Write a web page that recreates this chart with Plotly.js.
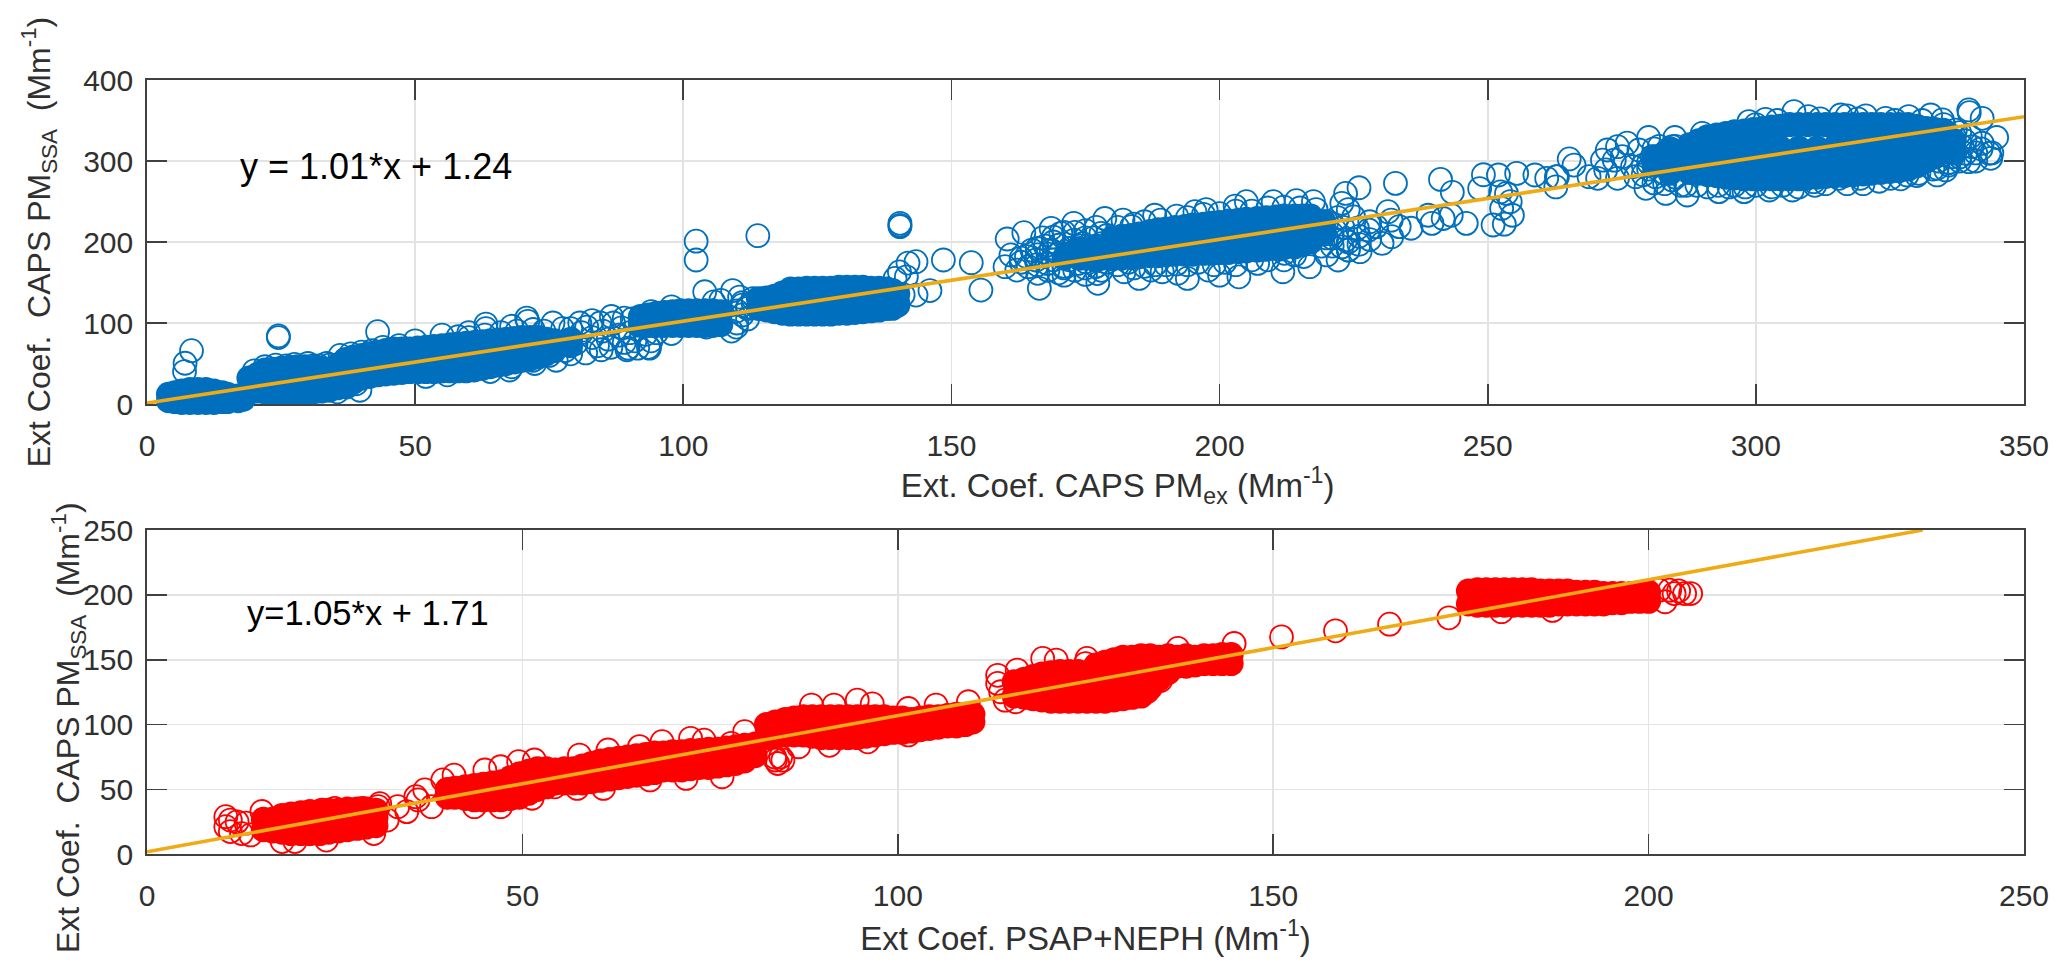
<!DOCTYPE html>
<html><head><meta charset="utf-8">
<script src="https://cdn.plot.ly/plotly-3.0.1.min.js"></script>
<style>html,body{margin:0;padding:0;background:#fff}</style></head>
<body><div id="chart" style="width:2067px;height:974px"></div>
<script>
// Panel 1: saturated (solid-looking) parts of the cloud
const blueCoreX=[4,4,6.5,6.5,9.5,9.5,12.5,12.5,15,15,17,17,
19,19,22,22,22,25,25,25,28,28,28,31,31,31,34,34,34,
37,37,37,40,40,40,43,43,43,46,46,46,49,49,49,
52,52,52,55,55,55,58,58,58,61,61,61,64,64,64,67,67,67,70,70,70,73,73,73,76,76,79,79,
92,92,95,95,98,98,101,101,104,104,107,107,
114,114,117,117,120,120,120,123,123,123,126,126,126,129,129,129,132,132,132,135,135,135,138,138,138,140,140,
171,174,174,177,177,
180,180,180,183.4,183.4,183.4,187,187,187,190,190,190,193.5,193.5,193.5,197,197,197,200,200,200,203.5,203.5,203.5,207,207,207,210.5,210.5,210.5,214,214,214,217,217,217,219.5,219.5,
281,281,284,284,284,
287.6,287.6,287.6,291,291,291,291,294.4,294.4,294.4,294.4,297.8,297.8,297.8,297.8,301.2,301.2,301.2,301.2,304.6,304.6,304.6,304.6,308,308,308,308,311.4,311.4,311.4,311.4,314.8,314.8,314.8,314.8,318.2,318.2,318.2,318.2,321.6,321.6,321.6,321.6,325,325,325,325,328.4,328.4,328.4,328.4,331.8,331.8,331.8,335,335,335,337,337];
const blueCoreY=[4,12,2,16,2,18,2,16,3,12,4,10,
18,32,15,30,42,15,30,44,15,30,46,15,30,45,17,30,43,
22,38,55,32,46,60,36,50,64,38,52,68,40,54,68,
40,55,70,41,56,72,41,58,74,42,60,76,46,62,78,50,64,80,54,68,82,58,72,82,66,78,72,80,
98,108,97,112,97,114,97,115,97,115,98,114,
118,130,114,133,111,127,142,111,127,143,111,127,143,112,128,144,113,128,144,115,130,143,118,130,142,122,136,
180,180,192,178,195,
179,192,205,181,195,208,183,198,213,184,200,216,185,202,219,186,204,222,187,205,224,188,207,227,190,210,229,192,212,231,194,213,232,200,216,232,210,225,
295,305,285,300,315,
286,303,320,283,300,317,330,280,298,316,334,278,297,316,337,278,297,316,340,278,297,316,343,278,297,316,345,280,298,316,345,282,300,318,345,283,301,319,345,285,303,321,345,287,305,323,345,290,308,326,345,300,320,340,311,325,338,310,325];
// Panel 1: the upper and lower edge of the solid parts
const blueRimX=[5.2,5.2,8,8,11,11,14,14,18,20.5,20.5,23.5,23.5,26.5,26.5,29.5,29.5,32.5,32.5,35.5,35.5,35.5,38.5,38.5,41.5,41.5,44.5,44.5,47.5,47.5,50.5,50.5,53.5,53.5,56.5,56.5,59.5,59.5,62.5,62.5,65.5,65.5,68.5,68.5,71.5,71.5,74.5,74.5,
93.5,93.5,96.5,96.5,99.5,99.5,102.5,102.5,105.5,105.5,
115.5,115.5,118.5,118.5,121.5,121.5,124.5,124.5,127.5,127.5,130.5,130.5,133.5,133.5,136.5,136.5,139,139,
181.7,181.7,185,185,188.5,188.5,191.7,191.7,195,195,198.5,198.5,201.7,201.7,205,205,208.7,208.7,212,212,215.5,215.5,
289.3,289.3,292.7,292.7,296,296,299.5,299.5,303,303,306.3,306.3,309.7,309.7,313,313,316.5,316.5,320,320,323.3,323.3,326.7,326.7,330,330,333.4,333.4];
const blueRimY=[3,14,2,18,2,18,3,14,6,16,36,15,43,15,45,15,46,16,44,20,34,48,27,58,34,62,37,66,39,68,40,69,40,71,41,73,41,75,44,77,48,79,52,81,56,82,62,80,
97,110,97,113,97,115,97,115,97,115,
116,131,112,137,111,142,111,143,111,143,112,144,114,144,116,143,120,140,
180,207,182,210,183,215,185,218,185,221,186,223,187,226,189,228,191,230,193,232,197,232,
285,325,282,332,279,336,278,339,278,342,278,345,279,345,281,345,282,345,284,345,286,345,288,345,294,343,305,339];
// Panel 1: individually visible open circles
const blueOpenX=[8.3,7.1,7,24.5,24.5,43,20,22,24,26,27.5,30,32,33.5,35,36,34,31,23,28,39.7,37.2,35.5,39,36,38,40,42,44,47,
60,63,66,69,72,74,50,52,56,64,68,72,75,78,
63.2,63.2,58,70.8,71,68,75.7,77.5,80.7,67.6,72.3,76.3,79,81.8,84.7,60,55,
80,81,82,83,84,84.5,85,86,86.5,87,88,88.5,89,89.5,90,90.5,91,91.5,92,93,93.5,94,95,86.6,89,79,83,89.7,93.7,97.8,104.3,109.9,
110,111,112,113,112,110,113,111,109,
104,109.2,105.7,110.5,97.8,94,102.4,102.4,113.9,140.4,140.4,140.4,143.4,141.9,140.3,141.6,139.5,143.4,146,148.5,153.7,155.5,141,140,139,111,112,107,
160.4,163.5,161.1,160,166.4,177.3,168.6,172.8,170.4,178.6,182,187.9,195.4,197.5,202.9,205,210,214.3,217.5,223.5,226,222.8,232.8,241.2,243.4,249.2,248.5,252,255.4,258.8,262.8,252.4,253.5,254.2,254.6,251,253.1,252.6,246,243.2,241.7,239.6,238.9,235.7,233.5,232.1,230.3,232,229.2,231.4,227.8,226.2,223.5,222.1,220,216.8,211.8,203.6,200,194,189.3,185,182.2,177.2,171,166.1,162.2,168.6,165.8,172.9,173.6,176.5,177.9,167.9,170,164.3,175,179.7,183.6,225,225.7,222.8,215.7,212.1,207.1,197.9,192.2,187.2,169,172,175,178,171,174,177,166,163,221,224,228,
166,166,167.5,168,169,170,171,171.5,172,173,174,174.5,175,176,176.5,177,178,178,179,179,165,167,169,171,173,175,177,175,178,172,168,170,163,164,181,183,184,186,188,190,192,194,196,199,201,203,206,209,212,214,181,184,186,189,192,194,197,200,203,206,209,212,215,218,
220,221,222,223,224,221,224,226,219,220,228,226,224,
265.2,266.1,262.7,263,261,268.9,270.5,271.4,272.3,274.2,276,273.6,272,274.2,277.6,280,284.9,290,298.7,301.8,307.1,309.8,315.8,317,320.5,324.2,328.5,332.6,334.8,339.7,339.8,342.2,344.9,343.5,343.8,342.2,339.7,333.8,333.8,328.2,325.1,319.5,315.5,310.8,306.8,302.5,297.8,293.1,287.2,283.2,279.5,337.2,338.5,336.6,340.3,335.4,330.4,339.1,278.2,275.1,280.7,281.3,277,284.4,284.4,280,282,284,286,283,285,281,279,
280,282,283,284,285,286,285,282,283,285,279,281,287,289,291,293,295,296,
298,300,303,305,308,311,313,317,320,323,327,330,333,300,304,312,319,326,331,335,338,
336,337,338,336,340,341,339,342,337,334,336,335,341,344,338];
const blueOpenY=[65.8,50.3,40,84,82,89.3,41,46,48,47,49,50,47,50,44,39,48,47,42,44,17,21,15,25,60,62,64,66,70,72,
82,85,88,90,92,90,78,34,36,40,46,54,60,66,
98.7,93,83,106,102,96,100,93,100,42,50,54,62,63,67,88,85,
75,88,95,82,72,100,90,80,70,100,85,94,76,67,88,105,78,69,100,86,70,78,88,108,106,93,103,69,69,87,95,95,
100,110,120,125,105,115,130,122,90,
138.6,140,126,132,120,114,201,177.8,207.8,223,219,220.5,175.7,174,163,157,155,134.5,140,177.8,174.5,140.7,135,125,118,125,118,128,
203.7,211.5,184,169.5,142.8,149,216.8,223,210.7,229,227,233,237.4,240,244.4,249.8,249.8,251,249.8,260,267,247.7,272.4,277.3,261.3,283,266,282.7,284.7,282.7,280.6,262,260,249.8,233,221,222,241.5,223,233,229,223,233,217,219,206.6,198.3,227,219,237.4,214.8,188,202.5,177.8,184,169.5,163.3,157,159,155,163.3,155,163.3,161,159,161.3,165.4,190,177.8,202.4,173.6,190,210.7,173.6,186,169.5,175.7,198,219,231,217,194,182,186,173.6,165.4,161.3,165.4,200,185,205,180,168,195,170,192,180,205,190,203,
172,184,195,165,178,196,170,182,192,165,183,198,168,180,205,170,186,198,175,208,190,205,206,212,212,214,218,160,165,178,185,162,175,182,172,175,168,170,172,172,173,172,175,172,175,172,178,178,178,184,218,222,225,227,232,230,234,235,238,238,242,243,242,240,
225,210,230,218,240,195,200,207,195,205,225,197,190,
302.5,295,268,280.7,278.6,280.7,278.6,301,313.6,317.7,322,301,289,278.6,280.7,329,329,334,348.6,351.5,361,354.8,356.8,355.6,355.6,352.7,354.8,356.8,350.7,363,359.7,352.7,329,309.5,303.3,321.9,299.2,282.8,291,282.8,278.6,278.6,278.6,274.5,264.2,264.2,262.2,262.2,258,260,266.3,338,317.7,305.4,317.7,289,284.8,309.5,313.6,305.4,305.4,280.7,293,276.6,317.7,290,300,290,300,310,280,315,295,
298,306,285,298,310,270,318,318,272,292,283,273,270,270,268,270,268,270,
268,270,268,270,268,270,272,272,272,275,278,282,290,345,350,352,352,350,350,345,335,
320,312,300,298,330,310,325,315,330,300,295,308,300,310,305];
const fitLine1X=[0,350];
const fitLine1Y=[1.24,354.74];
// Panel 2
const redCoreX=[15.5,15.5,18,18,18,20.5,20.5,20.5,23,23,23,25.5,25.5,25.5,28,28,28,30.5,30.5,30.5,
40,40,42.4,42.4,44.8,44.8,47.2,47.2,47.2,49.6,49.6,49.6,52,52,52,54.4,54.4,56.8,56.8,59.2,59.2,59.2,61.6,61.6,61.6,64,64,64,66.4,66.4,66.4,68.8,68.8,68.8,71.2,71.2,71.2,73.6,73.6,73.6,76,76,76,78.4,78.4,78.4,81,81,
82.5,82.5,85,85,87.4,87.4,89.8,89.8,92.2,92.2,94.6,94.6,97,97,99.4,99.4,101.8,101.8,104.2,104.2,106.6,106.6,109,109,110,110,
115.5,115.5,118,118,118,120.4,120.4,120.4,122.8,122.8,122.8,125.2,125.2,125.2,127.6,127.6,127.6,127.6,130,130,130,130,132.4,132.4,132.4,132.4,134.8,134.8,134.8,137.2,137.2,139.6,139.6,142,142,144.4,144.4,
176,176,178.4,178.4,180.8,180.8,183.2,183.2,185.6,185.6,188,188,190.4,190.4,192.8,192.8,195.2,195.2,197.6,197.6,200,200];
const redCoreY=[19,27,17,26,30,16,26,32,16,26,33,18,27,34,20,28,35,22,28,34,
44,50,43,52,42,54,42,48,56,44,54,62,50,60,66,55,65,55,66,56,66,70,58,68,73,60,70,75,62,71,77,65,72,78,65,73,79,67,74,80,68,75,81,70,77,83,76,85,
90,100,92,104,92,106,90,106,90,106,90,106,92,106,94,105,95,104,97,106,99,107,100,108,102,108,
122,133,120,128,137,118,128,140,118,128,141,118,128,140,118,128,138,148,120,130,140,152,122,132,142,153,135,144,152,145,152,146,152,147,153,147,154,
193,203,192,204,192,204,192,204,192,203,193,203,193,202,193,202,194,201,195,201,195,202];
const redRimX=[16.7,16.7,19.2,19.2,21.7,21.7,24.2,24.2,26.7,26.7,29.2,29.2,
41,41,43.6,43.6,46,46,48.4,48.4,50.8,50.8,53.2,53.2,55.6,55.6,58,58,60.4,60.4,62.8,62.8,65.2,65.2,67.6,67.6,70,70,72.4,72.4,74.8,74.8,77.2,77.2,79.6,79.6,
83.7,83.7,86.2,86.2,88.6,88.6,91,91,93.4,93.4,95.8,95.8,98.2,98.2,100.6,100.6,103,103,105.4,105.4,107.8,107.8,
116.8,116.8,119.2,119.2,121.6,121.6,124,124,126.4,126.4,128.8,128.8,131.2,131.2,133.6,133.6,136,136,138.4,138.4,140.8,140.8,143.2,143.2,
177.2,177.2,179.6,179.6,182,182,184.4,184.4,186.8,186.8,189.2,189.2,191.6,191.6,194,194,196.4,196.4,198.8,198.8];
const redRimY=[18,27,16,31,16,33,17,34,19,35,21,35,
44,51,42,53,42,55,43,59,47,64,52,66,55,66,55,68,57,72,59,74,61,76,63,78,65,79,66,80,67,81,69,82,72,84,
91,102,92,105,91,106,90,106,90,106,91,106,93,106,94,105,96,105,98,106,99,108,
121,135,119,139,118,141,118,141,118,146,119,150,121,152,128,153,140,153,145,153,147,153,147,154,
192,204,192,204,192,204,192,204,192,203,193,203,193,202,193,201,194,201,195,201];
const redOpenX=[11.1,10.5,10.5,12,11.1,13.2,13.8,15.3,18,19.7,23.9,30.2,31,32,33.4,34.6,35.8,37,36.1,37.9,12.6,23.3,25,28.7,30.8,
67,71.8,76.6,57.6,61.4,65.6,68.6,72.4,74.2,77.8,49.5,51.6,47.1,45,40.9,39.4,43.6,47.1,51.3,54.3,57.3,60.8,83.7,84,83.6,79.6,
86.8,84.7,84.4,94.6,91.5,96.6,101.4,105.1,109.4,88.5,90.9,96,101.4,
113.3,113.3,113.7,114.3,115.7,115.9,119.3,125,125.2,137.3,144.8,122.2,125,127.9,130.3,133.2,133.7,135,120.5,133.4,121.1,
151.1,158.3,165.5,173.4,203.4,204.8,204,202.2,180.4,205.6,187.2,201.4,202.8];
const redOpenY=[26.4,29,21.3,25,17.5,24,14.9,33,9.8,9.8,11,16,39,26.4,36.7,32.9,44.4,49.6,41.9,36.7,16,34,35.4,35.4,36.7,
57.3,58.5,59.8,76.5,80.4,83,86.8,89.4,88,85.5,71.4,72.7,67.5,65,61,57.3,36.7,36.7,43.2,52,50.8,50.8,72.7,70,75,94.5,
82.9,72.6,75,118.8,115,116,112.4,115,117.6,115,84,86.7,92,
138,131.7,125.3,118.8,117.6,142,151,147,151,158.7,162.5,118.8,118.8,121.4,121.4,125.3,131.7,134,121.4,138,149.7,
167.6,172.3,177.4,182.3,201,201,203,194.7,187,201,188,203.6,203.6];
const fitLine2X=[0,236.5];
const fitLine2Y=[2,250];
const xTicks1=[0,50,100,150,200,250,300,350];
const yTicks1=[0,100,200,300,400];
const ticks2=[0,50,100,150,200,250];
const fitText1='y = 1.01*x + 1.24';
const fitText2='y=1.05*x + 1.71';

const BLUE='#0070BE',RED='#FF0000',ORANGE='#EFAA14',INK='#303030';
const W=2067,H=974,NB='\u00a0',ZW='\u200b';
const yTitle='Ext Coef.\u00a0 CAPS PM<sub>SSA</sub>\u00a0 (Mm<sup>-1</sup>)';
function core(x,y,c,xa,ya){return {x,y,xaxis:xa,yaxis:ya,type:'scatter',mode:'markers',cliponaxis:false,showlegend:false,hoverinfo:'skip',
  marker:{symbol:'circle',size:25,color:c,line:{width:0}}};}
function open(x,y,c,xa,ya){return {x,y,xaxis:xa,yaxis:ya,type:'scatter',mode:'markers',cliponaxis:false,showlegend:false,
  marker:{symbol:'circle-open',size:23,color:c,line:{width:1.8,color:c}}};}
function fit(x,y,xa,ya){return {x,y,xaxis:xa,yaxis:ya,type:'scatter',mode:'lines',showlegend:false,line:{color:ORANGE,width:3.6}};}
const data=[open(blueOpenX,blueOpenY,BLUE,'x','y'),core(blueCoreX,blueCoreY,BLUE,'x','y'),core(blueRimX,blueRimY,BLUE,'x','y'),fit(fitLine1X,fitLine1Y,'x','y'),
            open(redOpenX,redOpenY,RED,'x2','y2'),core(redCoreX,redCoreY,RED,'x2','y2'),core(redRimX,redRimY,RED,'x2','y2'),fit(fitLine2X,fitLine2Y,'x2','y2')];
const font={family:'"Liberation Sans",Arial,sans-serif',color:INK};
function axis(o){return Object.assign({showgrid:true,gridcolor:'#e3e3e3',gridwidth:1.6,zeroline:false,showline:true,linecolor:'#404040',linewidth:1.8,
  mirror:'ticks',ticks:'inside',ticklen:20,tickwidth:1.8,tickcolor:'#404040',tickfont:{family:font.family,size:30,color:INK},layer:'below traces',automargin:false},o);}
const layout={width:W,height:H,paper_bgcolor:'#fff',plot_bgcolor:'#fff',margin:{l:0,r:0,t:0,b:0},showlegend:false,font,
 xaxis:axis({domain:[147/W,2024/W],range:[0,350],tickmode:'array',tickvals:xTicks1,ticktext:xTicks1.map(String),anchor:'y',ticklabelstandoff:14,
   title:{text:ZW+NB.repeat(7)+'Ext. Coef. CAPS PM<sub>ex</sub> (Mm<sup>-1</sup>)',font:{size:33,color:INK,family:font.family},standoff:8}}),
 yaxis:axis({domain:[1-404/H,1-80/H],range:[0,400],tickmode:'array',tickvals:yTicks1,ticktext:yTicks1.map(String),anchor:'x',ticklabelstandoff:6,
   title:{text:yTitle,font:{size:32,color:INK,family:font.family},standoff:23}}),
 xaxis2:axis({domain:[147/W,2024/W],range:[0,250],tickmode:'array',tickvals:ticks2,ticktext:ticks2.map(String),anchor:'y2',ticklabelstandoff:14,
   title:{text:'Ext Coef. PSAP+NEPH (Mm<sup>-1</sup>)',font:{size:33,color:INK,family:font.family},standoff:16}}),
 yaxis2:axis({domain:[1-854.3/H,1-530/H],range:[0,250],tickmode:'array',tickvals:ticks2,ticktext:ticks2.map(String),anchor:'x2',ticklabelstandoff:6}),
 annotations:[
  {text:fitText1,xref:'x',yref:'y',x:17,y:292.6,xanchor:'left',yanchor:'middle',showarrow:false,font:{size:36,color:'#000',family:font.family}},
  {text:fitText2,xref:'x2',yref:'y2',x:13,y:186,xanchor:'left',yanchor:'middle',showarrow:false,font:{size:34.5,color:'#000',family:font.family}},
  {text:yTitle,xref:'paper',yref:'paper',x:68/W,y:1-728/H,xanchor:'center',yanchor:'middle',textangle:-90,showarrow:false,font:{size:32,color:INK,family:font.family}}
 ]};
Plotly.newPlot('chart',data,layout,{displayModeBar:false,staticPlot:true});
</script></body></html>
